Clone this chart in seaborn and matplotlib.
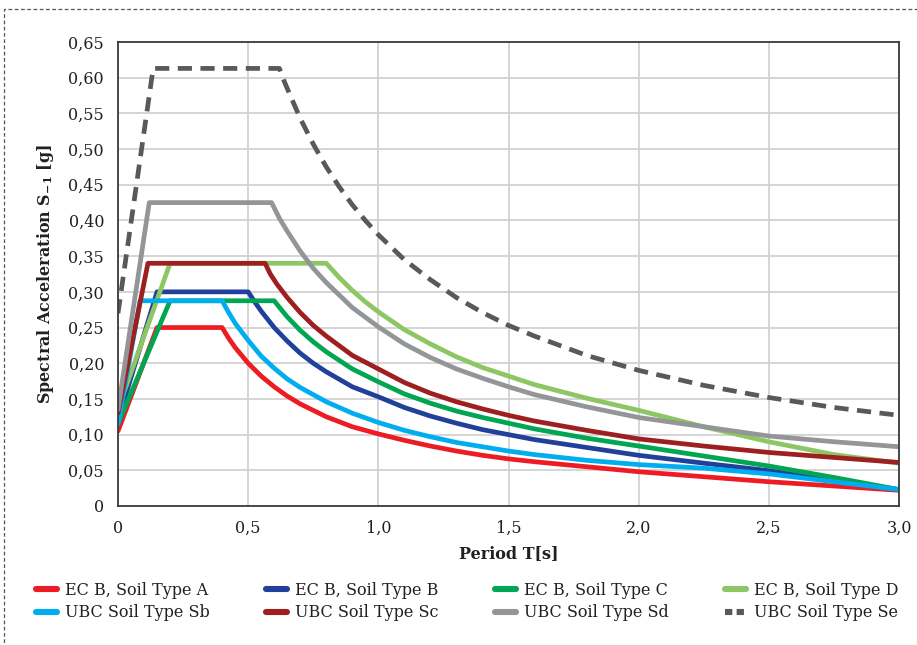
import matplotlib
matplotlib.use("Agg")
import matplotlib.pyplot as plt
import matplotlib.patches as mpatches
import seaborn as sns
import pandas as pd

# ---------------- data ----------------
series_names = [
    "EC B, Soil Type A", "EC B, Soil Type B", "EC B, Soil Type C", "EC B, Soil Type D",
    "UBC Soil Type Sb", "UBC Soil Type Sc", "UBC Soil Type Sd", "UBC Soil Type Se",
]

T_ec_a = [0, 0.15, 0.40, 0.425, 0.45, 0.50, 0.55, 0.60, 0.65, 0.70, 0.80, 0.90, 1.00, 1.10, 1.20, 1.30,
          1.40, 1.50, 1.60, 1.80, 2.00, 2.25, 2.50, 2.75, 3.00]
S_ec_a = [0.105, 0.25, 0.25, 0.235, 0.222, 0.200, 0.182, 0.167, 0.154, 0.143, 0.125, 0.111, 0.101, 0.092,
          0.084, 0.077, 0.071, 0.066, 0.062, 0.055, 0.048, 0.041, 0.034, 0.028, 0.022]

T_ec_b = [0, 0.15, 0.50, 0.525, 0.55, 0.60, 0.65, 0.70, 0.75, 0.80, 0.90, 1.00, 1.10, 1.20, 1.30, 1.40,
          1.50, 1.60, 1.80, 2.00, 2.25, 2.50, 2.75, 3.00]
S_ec_b = [0.12, 0.30, 0.30, 0.286, 0.273, 0.250, 0.231, 0.214, 0.200, 0.188, 0.167, 0.153, 0.138, 0.126,
          0.116, 0.107, 0.100, 0.093, 0.082, 0.071, 0.060, 0.0495, 0.036, 0.023]

T_ec_c = [0, 0.20, 0.60, 0.625, 0.65, 0.70, 0.75, 0.80, 0.90, 1.00, 1.10, 1.20, 1.30, 1.40, 1.50, 1.60,
          1.80, 2.00, 2.25, 2.50, 2.75, 3.00]
S_ec_c = [0.115, 0.2875, 0.2875, 0.276, 0.265, 0.246, 0.230, 0.216, 0.192, 0.174, 0.157, 0.144, 0.133,
          0.124, 0.116, 0.108, 0.095, 0.084, 0.070, 0.056, 0.040, 0.023]

T_ec_d = [0, 0.20, 0.80, 0.825, 0.85, 0.90, 0.95, 1.00, 1.10, 1.20, 1.30, 1.40, 1.50, 1.60, 1.80, 2.00,
          2.25, 2.50, 2.75, 3.00]
S_ec_d = [0.136, 0.34, 0.34, 0.330, 0.320, 0.302, 0.286, 0.272, 0.247, 0.227, 0.209, 0.194, 0.182, 0.170,
          0.151, 0.134, 0.111, 0.090, 0.072, 0.060]

T_ubc_sb = [0, 0.085, 0.40, 0.425, 0.45, 0.50, 0.55, 0.60, 0.65, 0.70, 0.80, 0.90, 1.00, 1.10, 1.20,
            1.30, 1.40, 1.50, 1.60, 1.80, 2.00, 2.25, 2.50, 2.75, 3.00]
S_ubc_sb = [0.115, 0.2875, 0.2875, 0.271, 0.256, 0.232, 0.210, 0.193, 0.178, 0.166, 0.146, 0.130, 0.117,
            0.106, 0.097, 0.089, 0.083, 0.077, 0.072, 0.064, 0.058, 0.053, 0.045, 0.034, 0.023]

T_ubc_sc = [0, 0.115, 0.565, 0.585, 0.61, 0.65, 0.70, 0.75, 0.80, 0.90, 1.00, 1.10, 1.20, 1.30, 1.40,
            1.50, 1.60, 1.80, 2.00, 2.25, 2.50, 2.75, 3.00]
S_ubc_sc = [0.13, 0.34, 0.34, 0.325, 0.311, 0.292, 0.271, 0.253, 0.238, 0.211, 0.192, 0.173, 0.158, 0.146,
            0.136, 0.127, 0.119, 0.106, 0.094, 0.084, 0.075, 0.068, 0.061]

T_ubc_sd = [0, 0.12, 0.59, 0.62, 0.65, 0.70, 0.75, 0.80, 0.90, 1.00, 1.10, 1.20, 1.30, 1.40, 1.50, 1.60,
            1.80, 2.00, 2.25, 2.50, 2.75, 3.00]
S_ubc_sd = [0.135, 0.425, 0.425, 0.403, 0.385, 0.357, 0.333, 0.313, 0.278, 0.251, 0.227, 0.208, 0.192,
            0.179, 0.167, 0.156, 0.139, 0.124, 0.111, 0.098, 0.090, 0.083]

T_ubc_se = [0, 0.135, 0.62, 0.635, 0.65, 0.70, 0.75, 0.80, 0.85, 0.90, 0.95, 1.00, 1.10, 1.20, 1.30,
            1.40, 1.50, 1.60, 1.80, 2.00, 2.25, 2.50, 2.75, 3.00]
S_ubc_se = [0.27, 0.613, 0.613, 0.598, 0.585, 0.543, 0.507, 0.475, 0.447, 0.422, 0.400, 0.380, 0.345,
            0.317, 0.292, 0.271, 0.253, 0.238, 0.211, 0.190, 0.169, 0.152, 0.138, 0.127]

x_ticks = [0, 0.5, 1.0, 1.5, 2.0, 2.5, 3.0]
x_tick_labels = ["0", "0,5", "1,0", "1,5", "2,0", "2,5", "3,0"]
y_ticks = [0, 0.05, 0.10, 0.15, 0.20, 0.25, 0.30, 0.35, 0.40, 0.45, 0.50, 0.55, 0.60, 0.65]
y_tick_labels = ["0", "0,05", "0,10", "0,15", "0,20", "0,25", "0,30", "0,35",
                 "0,40", "0,45", "0,50", "0,55", "0,60", "0,65"]

x_label = "Period T[s]"
y_label = r"Spectral Acceleration S$_{\mathbf{-1}}$ [g]"

# ---------------- styling ----------------
colors = {
    "EC B, Soil Type A": "#ED1C24",
    "EC B, Soil Type B": "#21409A",
    "EC B, Soil Type C": "#00A651",
    "EC B, Soil Type D": "#8DC663",
    "UBC Soil Type Sb": "#00AEEF",
    "UBC Soil Type Sc": "#9E1F20",
    "UBC Soil Type Sd": "#939598",
    "UBC Soil Type Se": "#58595B",
}
dashes = {n: "" for n in series_names}
dashes["UBC Soil Type Se"] = (3, 1.8)

sns.set_theme(style="white")
plt.rcParams["font.family"] = ["DejaVu Serif"]
plt.rcParams["mathtext.fontset"] = "dejavuserif"

T_lists = [T_ec_a, T_ec_b, T_ec_c, T_ec_d, T_ubc_sb, T_ubc_sc, T_ubc_sd, T_ubc_se]
S_lists = [S_ec_a, S_ec_b, S_ec_c, S_ec_d, S_ubc_sb, S_ubc_sc, S_ubc_sd, S_ubc_se]
frames = []
for name, T, S in zip(series_names, T_lists, S_lists):
    frames.append(pd.DataFrame({"T": T, "S": S, "series": name}))
df = pd.concat(frames, ignore_index=True)

fig = plt.figure(figsize=(9.17, 6.45), dpi=100)
ax = fig.add_axes([118 / 917, 1 - 506 / 645, (899 - 118) / 917, (506 - 42) / 645])

sns.lineplot(data=df, x="T", y="S", hue="series", style="series",
             hue_order=series_names, style_order=series_names,
             palette=colors, dashes=dashes, linewidth=3.4,
             estimator=None, sort=False, ax=ax, legend=True)

ax.set_xlim(0, 3.0)
ax.set_ylim(0, 0.65)
ax.set_xticks(x_ticks)
ax.set_xticklabels(x_tick_labels)
ax.set_yticks(y_ticks)
ax.set_yticklabels(y_tick_labels)
ax.grid(True, color="#d2d2d2", linewidth=1.3)
ax.set_axisbelow(True)
for sp in ax.spines.values():
    sp.set_color("#3a3a3a")
    sp.set_linewidth(1.3)
    sp.set_visible(True)
ax.tick_params(axis="both", direction="out", length=6, width=1.3, color="#222222",
               labelsize=11.5, labelcolor="#231f20", pad=4)
ax.set_xlabel(x_label, fontsize=11.5, fontweight="bold", color="#231f20", labelpad=6)
ax.set_ylabel(y_label, fontsize=11.5, fontweight="bold", color="#231f20", labelpad=9)

handles, labels = ax.get_legend_handles_labels()
ax.get_legend().remove()
hmap = dict(zip(labels, handles))
# legend fills column-wise; reorder so rows read like the reference
order = [series_names[i] for i in (0, 4, 1, 5, 2, 6, 3, 7)]
leg = fig.legend([hmap[n] for n in order], order, loc="upper left",
                 bbox_to_anchor=(36 / 917, 1 - 582 / 645),
                 ncol=4, frameon=False, fontsize=11.5, handlelength=1.3, handletextpad=0.5,
                 columnspacing=3.55, labelspacing=0.32, borderaxespad=0, borderpad=0)
for t in leg.get_texts():
    t.set_color("#231f20")
for ln, lab in zip(leg.get_lines(), order):
    ln.set_linewidth(4.4)
    if lab == "UBC Soil Type Se":
        ln.set_dashes((1.2, 0.7))

# outer dashed frame
frame = mpatches.Rectangle((4 / 917, -0.2), 1.2, 1 - 9 / 645 + 0.2, transform=fig.transFigure,
                           fill=False, edgecolor="#555555", linewidth=0.9, linestyle=(0, (3, 2)))
fig.patches.append(frame)

fig.savefig("out.png", dpi=100)
